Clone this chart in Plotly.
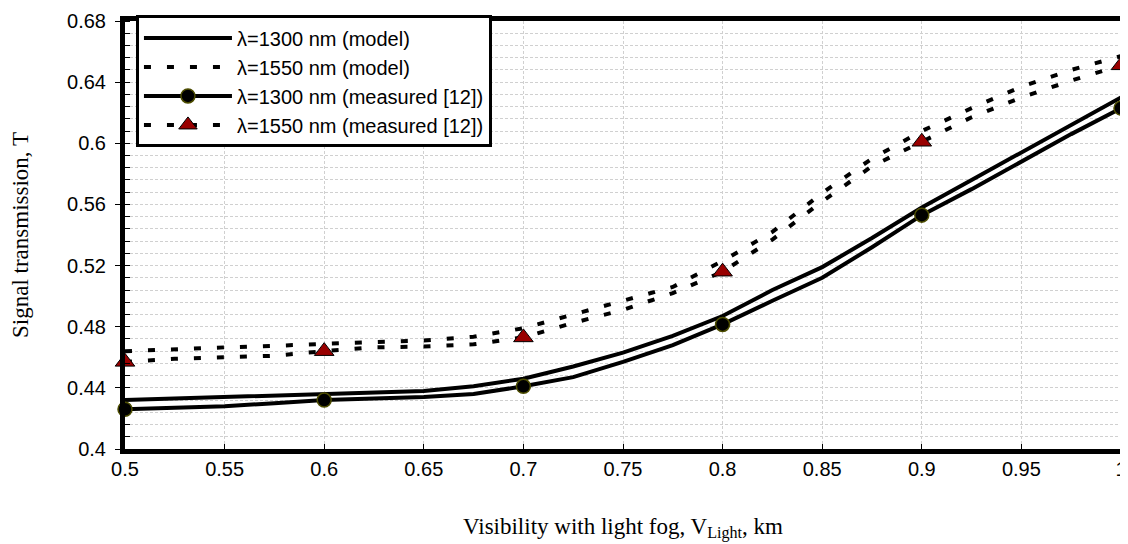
import plotly.graph_objects as go

# ---- data ----
x_vals = [0.5, 0.525, 0.55, 0.575, 0.6, 0.625, 0.65, 0.675, 0.7, 0.725, 0.75,
          0.775, 0.8, 0.825, 0.85, 0.875, 0.9, 0.925, 0.95, 0.975, 1.0]
model_1300 = [0.432, 0.433, 0.434, 0.435, 0.436, 0.437, 0.438, 0.441, 0.446, 0.454, 0.463,
              0.474, 0.487, 0.504, 0.519, 0.538, 0.558, 0.576, 0.594, 0.612, 0.630]
model_1550 = [0.464, 0.4655, 0.4665, 0.4675, 0.469, 0.470, 0.471, 0.4735, 0.479, 0.488, 0.497,
              0.506, 0.523, 0.542, 0.5675, 0.590, 0.608, 0.623, 0.637, 0.648, 0.657]
meas_1300 = [0.426, 0.427, 0.428, 0.430, 0.432, 0.433, 0.434, 0.436, 0.441, 0.447, 0.457,
             0.468, 0.4815, 0.497, 0.512, 0.532, 0.553, 0.570, 0.588, 0.606, 0.623]
meas_1550 = [0.457, 0.459, 0.460, 0.461, 0.464, 0.4665, 0.467, 0.4685, 0.473, 0.4825, 0.491,
             0.502, 0.516, 0.537, 0.562, 0.585, 0.601, 0.617, 0.630, 0.641, 0.651]
marker_idx = [0, 4, 8, 12, 16, 20]   # measured points (every 0.1 km)

names = ["λ=1300 nm (model)", "λ=1550 nm (model)",
         "λ=1300 nm (measured [12])", "λ=1550 nm (measured [12])"]

x_tickvals = [0.5, 0.55, 0.6, 0.65, 0.7, 0.75, 0.8, 0.85, 0.9, 0.95, 1.0]
x_ticktext = ["0.5", "0.55", "0.6", "0.65", "0.7", "0.75", "0.8", "0.85", "0.9", "0.95", "1"]
y_tickvals = [0.4, 0.44, 0.48, 0.52, 0.56, 0.6, 0.64, 0.68]
y_ticktext = ["0.4", "0.44", "0.48", "0.52", "0.56", "0.6", "0.64", "0.68"]

x_title = "Visibility with light fog, V<sub>Light</sub>, km"
y_title = "Signal transmission, T"

# ---- styles ----
LW = 4
DASH = "7px,16px"
circ = dict(symbol="circle", size=14, color="black", line=dict(color="#4d4d00", width=1.5))
tri = dict(symbol="triangle-up", size=17, color="#990000", line=dict(color="black", width=1))

fig = go.Figure()

# legend entries (in order)
fig.add_trace(go.Scatter(x=x_vals, y=model_1300, mode="lines", name=names[0],
                         line=dict(color="black", width=LW), cliponaxis=False))
fig.add_trace(go.Scatter(x=x_vals, y=model_1550, mode="lines", name=names[1],
                         line=dict(color="black", width=LW, dash=DASH), cliponaxis=False))
fig.add_trace(go.Scatter(x=[None], y=[None], mode="lines+markers", name=names[2],
                         line=dict(color="black", width=LW), marker=circ))
fig.add_trace(go.Scatter(x=[None], y=[None], mode="lines+markers", name=names[3],
                         line=dict(color="black", width=LW, dash=DASH), marker=tri))

# measured lines
fig.add_trace(go.Scatter(x=x_vals, y=meas_1300, mode="lines", showlegend=False,
                         line=dict(color="black", width=LW), cliponaxis=False))
fig.add_trace(go.Scatter(x=x_vals, y=meas_1550, mode="lines", showlegend=False,
                         line=dict(color="black", width=LW, dash=DASH), cliponaxis=False))
# measured markers
fig.add_trace(go.Scatter(x=[x_vals[i] for i in marker_idx], y=[meas_1300[i] for i in marker_idx],
                         mode="markers", showlegend=False, marker=circ, cliponaxis=False))
fig.add_trace(go.Scatter(x=[x_vals[i] for i in marker_idx], y=[meas_1550[i] for i in marker_idx],
                         mode="markers", showlegend=False, marker=tri, cliponaxis=False))

tick_font = dict(family="Arial, Liberation Sans, sans-serif", size=20, color="black")
title_font = dict(family="Times New Roman, Liberation Serif, serif", size=23, color="black")
grid_col = "#d0d0d0"

# page body has an 8px margin, so the figure is sized to fit the 1128x544 window
fig.update_layout(
    width=1120, height=536,
    margin=dict(l=117, r=7, t=9, b=95),
    paper_bgcolor="white", plot_bgcolor="white",
    showlegend=True,
    legend=dict(x=0.011, y=1.013, xanchor="left", yanchor="top",
                bgcolor="white", bordercolor="black", borderwidth=3,
                font=dict(family="Arial, Liberation Sans, sans-serif", size=20, color="black"),
                itemwidth=88, tracegroupgap=0),
)
fig.update_xaxes(
    range=[0.5, 1.0], tickvals=x_tickvals, ticktext=x_ticktext, tickfont=tick_font,
    ticklabeloverflow="allow", ticklabelstandoff=-2, automargin=False,
    showline=True, linecolor="black", linewidth=5, mirror=True,
    ticks="inside", ticklen=5, tickcolor="black", tickwidth=1,
    showgrid=True, gridcolor=grid_col, gridwidth=1, griddash="3px,2px",
    zeroline=False,
    title=dict(text=x_title, font=title_font, standoff=40),
)
fig.update_yaxes(
    range=[0.4, 0.68], tickvals=y_tickvals, ticktext=y_ticktext, tickfont=tick_font,
    ticklabelstandoff=5, automargin=False,
    showline=True, linecolor="black", linewidth=5, mirror=True,
    ticks="outside", ticklen=5, tickcolor="black", tickwidth=1,
    showgrid=True, gridcolor=grid_col, gridwidth=1, griddash="3px,2px",
    minor=dict(tick0=0.4, dtick=0.008, showgrid=True, gridcolor=grid_col, gridwidth=1,
               griddash="3px,2px", ticks="inside", ticklen=5, tickcolor="black"),
    zeroline=False,
    title=dict(text=y_title, font=title_font, standoff=37),
)

fig.write_html("out.html")
